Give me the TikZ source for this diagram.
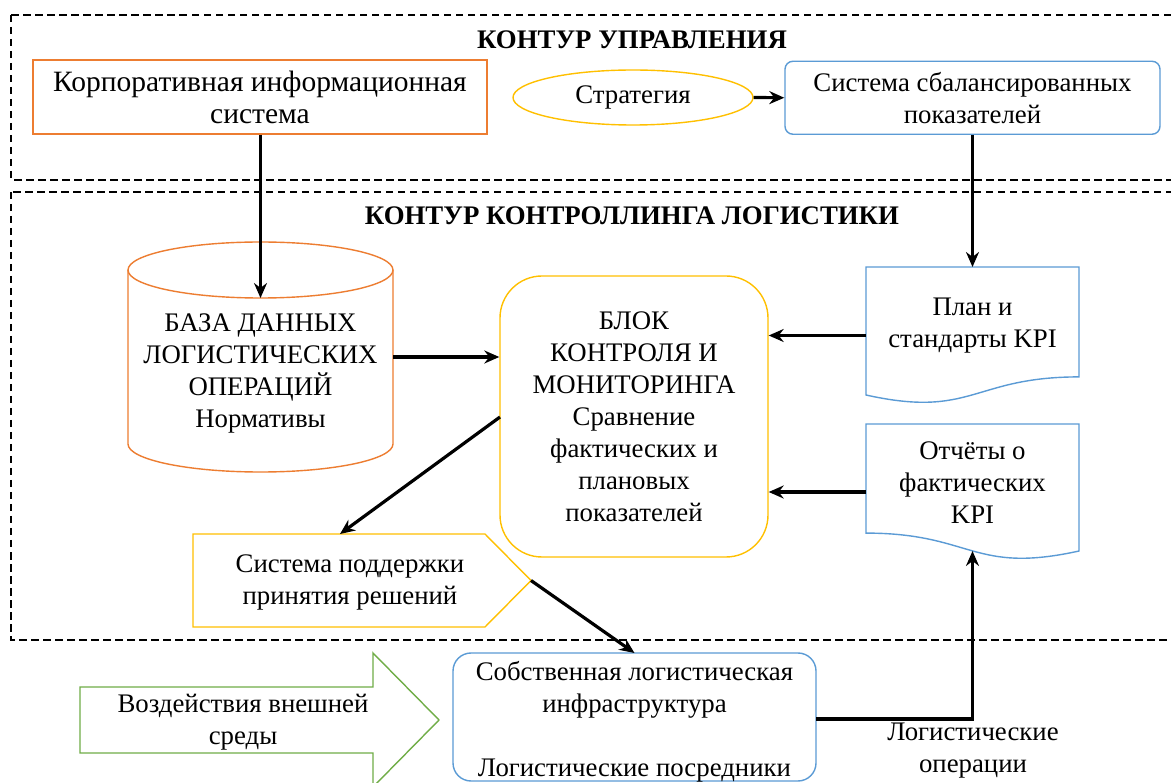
\documentclass[tikz,border=0pt]{standalone}
\usepackage{fontspec}
\setmainfont{Liberation Serif}
\usetikzlibrary{arrows.meta,calc,shapes.geometric}
\definecolor{cOrange}{HTML}{ED7D31}
\definecolor{cYellow}{HTML}{FFC000}
\definecolor{cBlue}{HTML}{5B9BD5}
\definecolor{cGreen}{HTML}{70AD47}
\begin{document}
\begin{tikzpicture}[x=1pt,y=-1pt,
  txt/.style={font=\fontsize{26.8}{32}\selectfont, align=center, inner sep=0pt},
  bigtxt/.style={font=\fontsize{29.5}{32}\selectfont, align=center, inner sep=0pt},
  ttl/.style={font=\fontsize{26.8}{32}\selectfont\bfseries, inner sep=0pt},
  shp/.style={line width=1.4pt},
  frame/.style={inner sep=0pt, outer sep=0pt},
  arr/.style={line width=3.2pt, -{Stealth[length=15pt,width=13pt,inset=5pt]}},
  contour/.style={line width=1.3pt, dash pattern=on 7.5pt off 4.5pt},
]
\clip (0,0) rectangle (1171,783);
\fill[white] (0,0) rectangle (1171,783);

% contours
\draw[contour] (11,15) rectangle (1200,180);
\draw[contour] (11,192) rectangle (1200,640);
\node[ttl] (t1) at (632,40) {КОНТУР УПРАВЛЕНИЯ};
\node[ttl] (t2) at (632,216) {КОНТУР КОНТРОЛЛИНГА ЛОГИСТИКИ};

% top row
\node[draw=cOrange, shp, bigtxt, minimum width=454pt, minimum height=74pt] (kis) at (260,97) {Корпоративная информационная\\система};
\node[draw=cYellow, shp, txt, ellipse, minimum width=240pt, minimum height=55pt] (strat) at (633,97.5) {Стратегия};
\node[draw=cBlue, shp, txt, rounded corners=8pt, minimum width=375pt, minimum height=73pt] (bsc) at (972.5,97.75) {Система сбалансированных\\показателей};

% cylinder
\node[frame, minimum width=265pt, minimum height=230pt] (db) at (260.5,357) {};
\draw[cOrange, shp] (128,270) -- (128,444) arc[start angle=180, end angle=0, x radius=132.5, y radius=28] -- (393,270);
\draw[cOrange, shp] (260.5,270) ellipse[x radius=132.5, y radius=28];
\node[txt] (dbt) at (260.5,373) {БАЗА ДАННЫХ\\ЛОГИСТИЧЕСКИХ\\ОПЕРАЦИЙ\\Нормативы};
\coordinate (dbtop) at (260.5,298);

% central block
\node[draw=cYellow, shp, txt, rounded corners=42pt, minimum width=268pt, minimum height=281pt] (blk) at (634,416.5) {БЛОК\\КОНТРОЛЯ И\\МОНИТОРИНГА\\Сравнение\\фактических и\\плановых\\показателей};

% documents
\node[frame, minimum width=213pt, minimum height=137pt] (plan) at (972.5,335.5) {};
\draw[cBlue, shp] (866,267) -- (1079,267) -- (1079,376.9) .. controls (972.5,376.9) and (972.5,418.7) .. (866,395) -- cycle;
\node[txt] (plant) at (972.5,326) {План и\\стандарты KPI};

\node[frame, minimum width=213pt, minimum height=136pt] (rep) at (972.5,492) {};
\draw[cBlue, shp] (866,424) -- (1079,424) -- (1079,551) .. controls (972.5,574.6) and (972.5,533.1) .. (866,533.1) -- cycle;
\node[txt] (rept) at (972.5,482.5) {Отчёты о\\фактических\\KPI};
\coordinate (repin) at (972.5,551);

% decision support
\node[frame, minimum width=338pt, minimum height=93pt] (dss) at (362,580.5) {};
\draw[cYellow, shp] (193,534) -- (485,534) -- (531,580.5) -- (485,627) -- (193,627) -- cycle;
\node[txt] (dsst) at (350,582) {Система поддержки\\принятия решений};
\coordinate (dssin) at (340,534);
\coordinate (dsstip) at (531,580.5);

% infrastructure
\node[draw=cBlue, shp, frame, rounded corners=18pt, minimum width=363pt, minimum height=128pt] (inf) at (634.5,717) {};
\node[txt] (inft) at (634.5,721.5) {Собственная логистическая\\инфраструктура\\[32pt]Логистические посредники};

% external environment arrow
\node[frame, minimum width=359pt, minimum height=134pt] (ext) at (259.5,720) {};
\draw[cGreen, shp] (80,687) -- (373,687) -- (373,653) -- (439,720) -- (373,787) -- (373,753) -- (80,753) -- cycle;
\node[txt] (extt) at (243,722.5) {Воздействия внешней\\среды};

% label
\node[txt] (ops) at (973,751) {Логистические\\операции};

% connectors
\coordinate (blkout) at (500,417);
\draw[arr] (strat.east) -- (bsc.west);
\draw[arr] (kis.south -| dbtop) -- (dbtop);
\draw[arr] (bsc.south) -- (plan.north);
\draw[arr] (db.east) -- (db.east -| blk.west);
\draw[arr] (plan.west) -- (plan.west -| blk.east);
\draw[arr] (rep.west) -- (rep.west -| blk.east);
\draw[arr] (blkout) -- (dssin);
\draw[arr] (dsstip) -- (inf.north);
\draw[arr] ([yshift=-2pt]inf.east) -- ([yshift=-2pt]inf.east -| repin) -- (repin);
\end{tikzpicture}
\end{document}
